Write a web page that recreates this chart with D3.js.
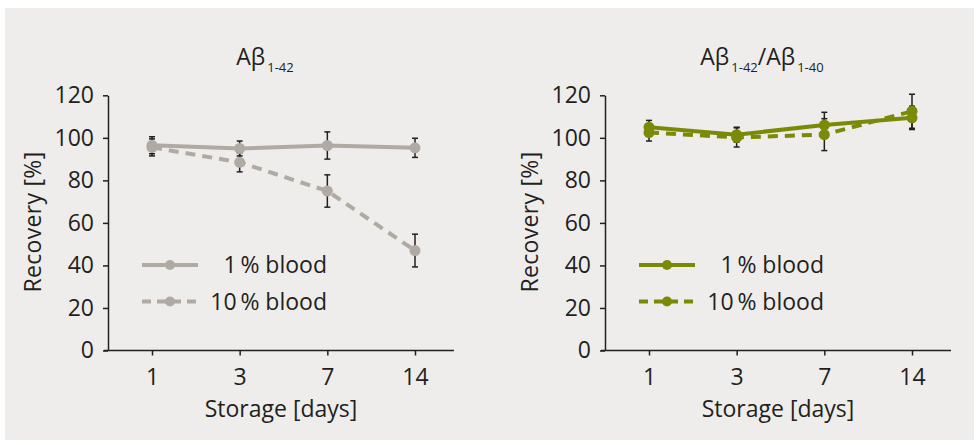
<!DOCTYPE html>
<html><head><meta charset="utf-8">
<script src="https://cdn.jsdelivr.net/npm/d3@7"></script>
<style>body{margin:0;background:#fff}svg{display:block}text{font-family:"Open Sans",sans-serif;fill:#231f20}</style>
</head><body><svg id="c" width="978" height="445"></svg>
<script>
const days = ["1","3","7","14"];
const yTicks = [0,20,40,60,80,100,120];
const seriesNames = ["1\u2009% blood","10\u2009% blood"];
const ab42_1 = [96.5, 95.0, 96.4, 95.3];
const ab42_1_err = [4.0, 3.5, 6.4, 4.5];
const ab42_10 = [95.5, 88.5, 75.0, 47.0];
const ab42_10_err = [4.0, 4.5, 7.6, 7.7];
const ratio_1 = [105.0, 101.5, 106.0, 109.4];
const ratio_1_err = [3.2, 3.5, 6.0, 5.5];
const ratio_10 = [102.5, 100.2, 101.5, 112.5];
const ratio_10_err = [4.0, 4.5, 7.5, 8.0];

const svg = d3.select("#c");
svg.append("rect").attr("x",5).attr("y",8).attr("width",969).attr("height",432).attr("fill","#eeedeb");

const y = d3.scaleLinear().domain([0,120]).range([350.5,95.3]);
const x = d3.scalePoint().domain(days).range([44,307]);
const FS = "23px";

const panels = [
  {ox:108, color:"#b0aaa3", title:[["Aβ",0],["1-42",1]], s:[[ab42_1,ab42_1_err],[ab42_10,ab42_10_err]]},
  {ox:605, color:"#7b8a06", title:[["Aβ",0],["1-42",1],["/Aβ",0],["1-40",1]], s:[[ratio_1,ratio_1_err],[ratio_10,ratio_10_err]]}
];

panels.forEach(p=>{
  const g = svg.append("g").attr("transform",`translate(${p.ox},0)`);
  const ya = g.append("g").call(d3.axisLeft(y).tickValues(yTicks).tickSize(5).tickSizeOuter(0).tickPadding(9));
  ya.selectAll("path,line").attr("stroke","#231f20").attr("stroke-width",1.5);
  ya.selectAll("text").style("font-size",FS).style("font-family","'Open Sans',sans-serif").attr("fill","#231f20");
  g.append("line").attr("x1",-4).attr("x2",346).attr("y1",350.5).attr("y2",350.5).attr("stroke","#231f20").attr("stroke-width",1.5);
  const xa = g.append("g").attr("transform","translate(0,350.5)").call(d3.axisBottom(x).tickSize(5));
  xa.select(".domain").remove();
  xa.selectAll("line").attr("stroke","#231f20").attr("stroke-width",1.5);
  xa.selectAll("text").attr("y",34).attr("dy",0).style("font-size",FS).style("font-family","'Open Sans',sans-serif").attr("fill","#231f20");
  g.append("text").attr("x",173).attr("y",417).attr("text-anchor","middle").style("font-size",FS).text("Storage [days]");
  g.append("text").attr("transform",`translate(${-67},222) rotate(-90)`).attr("text-anchor","middle").style("font-size",FS).style("letter-spacing","0.3px").text("Recovery [%]");
  const t = g.append("text").attr("x",157).attr("y",65).attr("text-anchor","middle").style("font-size",FS);
  p.title.forEach(([s,sub],i)=>{
    const prevSub = i>0 ? p.title[i-1][1] : 0;
    const sp = t.append("tspan").text(s);
    if(sub){ sp.style("font-size","13px").attr("dy",7).attr("dx",2); }
    else if(prevSub){ sp.attr("dy",-7); }
  });
  p.s.forEach(([vals,errs],k)=>{
    const pts = days.map((d,i)=>({d,v:vals[i],e:errs[i]}));
    const eb = g.append("g");
    pts.forEach(o=>{
      const cx = x(o.d);
      eb.append("line").attr("x1",cx).attr("x2",cx).attr("y1",y(o.v+o.e)).attr("y2",y(o.v-o.e)).attr("stroke","#231f20").attr("stroke-width",1.5);
      [o.v+o.e,o.v-o.e].forEach(v=>eb.append("line").attr("x1",cx-3).attr("x2",cx+3).attr("y1",y(v)).attr("y2",y(v)).attr("stroke","#231f20").attr("stroke-width",1.5));
    });
  });
  p.s.forEach(([vals,errs],k)=>{
    const pts = days.map((d,i)=>({d,v:vals[i]}));
    g.append("path").datum(pts).attr("d",d3.line().x(o=>x(o.d)).y(o=>y(o.v)))
      .attr("fill","none").attr("stroke",p.color).attr("stroke-width",4)
      .attr("stroke-dasharray",k?"10,7":null);
    g.selectAll(null).data(pts).enter().append("circle").attr("cx",o=>x(o.d)).attr("cy",o=>y(o.v)).attr("r",5.5).attr("fill",p.color);
  });
  seriesNames.forEach((nm,k)=>{
    const ly = [265,301.5][k];
    g.append("line").attr("x1",34).attr("x2",90).attr("y1",ly).attr("y2",ly).attr("stroke",p.color).attr("stroke-width",4).attr("stroke-dasharray",k?"9,6":null);
    g.append("circle").attr("cx",62).attr("cy",ly).attr("r",5).attr("fill",p.color);
    g.append("text").attr("x",219).attr("y",ly+8).attr("text-anchor","end").style("font-size",FS).text(nm);
  });
});
</script></body></html>
